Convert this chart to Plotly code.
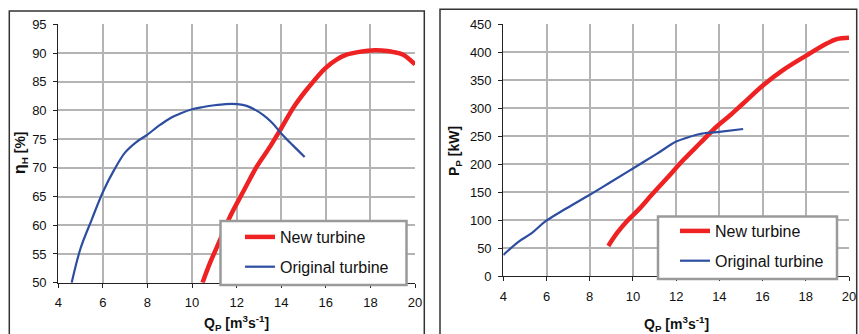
import plotly.graph_objects as go

# Left chart: hydraulic efficiency eta_H [%] vs Q_P
eta_orig_q = [4.6, 5.0, 5.5, 6.0, 6.5, 7.0, 7.5, 8.0, 8.5, 9.0, 9.5, 10.0, 10.5, 11.0, 11.5, 12.0, 12.45, 13.2, 13.6, 14.0, 14.5, 15.05]
eta_orig = [50.0, 56.0, 61.0, 65.8, 69.6, 72.7, 74.5, 75.8, 77.3, 78.6, 79.5, 80.2, 80.6, 80.9, 81.1, 81.1, 80.8, 79.2, 77.8, 76.0, 74.0, 71.9]
eta_new_q = [10.47, 10.8, 11.25, 11.7, 12.37, 12.9, 13.5, 14.0, 14.6, 15.2, 15.96, 16.5, 16.93, 17.5, 18.2, 18.6, 19.0, 19.47, 20.0]
eta_new = [50.0, 53.4, 57.4, 61.5, 66.4, 70.2, 73.7, 76.9, 80.8, 83.9, 87.3, 88.9, 89.7, 90.2, 90.5, 90.4, 90.2, 89.7, 88.0]

# Right chart: power P_P [kW] vs Q_P
p_orig_q = [4.0, 4.7, 5.3, 5.93, 6.93, 8.0, 8.94, 10.0, 11.1, 12.0, 12.5, 13.1, 13.9, 15.1]
p_orig = [37.5, 61, 76, 97, 121, 145, 167, 192, 218, 240, 247, 253.6, 257, 262.5]
p_new_q = [8.86, 9.25, 9.7, 10.25, 10.87, 11.56, 12.33, 13.1, 13.88, 14.5, 15.1, 16.04, 16.96, 18.04, 18.97, 19.43, 20.0]
p_new = [53.6, 76, 97, 118, 145, 174, 207, 237, 267, 287, 308, 341, 368, 394, 415, 423, 425.5]

x_ticks = [4, 6, 8, 10, 12, 14, 16, 18, 20]
eta_ticks = [50, 55, 60, 65, 70, 75, 80, 85, 90, 95]
p_ticks = list(range(0, 451, 50))

RED = "#ee2222"
BLUE = "#2d4ea0"
FONT = "Liberation Sans, Arial, sans-serif"

fig = go.Figure()
fig.add_trace(go.Scatter(x=eta_new_q, y=eta_new, mode="lines", name="New turbine", legendgroup="a",
                         line=dict(color=RED, width=4.5, shape="spline"), xaxis="x", yaxis="y", legend="legend"))
fig.add_trace(go.Scatter(x=eta_orig_q, y=eta_orig, mode="lines", name="Original turbine", legendgroup="b",
                         line=dict(color=BLUE, width=2.2, shape="spline"), xaxis="x", yaxis="y", legend="legend"))
fig.add_trace(go.Scatter(x=p_new_q, y=p_new, mode="lines", name="New turbine", legendgroup="c",
                         line=dict(color=RED, width=4.5, shape="spline"), xaxis="x2", yaxis="y2", legend="legend2"))
fig.add_trace(go.Scatter(x=p_orig_q, y=p_orig, mode="lines", name="Original turbine", legendgroup="d",
                         line=dict(color=BLUE, width=2.2, shape="spline"), xaxis="x2", yaxis="y2", legend="legend2"))

W, H = 859, 334
def px(x):
    return x / W
def py(y):
    return 1 - y / H

axcommon = dict(showgrid=True, gridcolor="#b4b4b4", gridwidth=1.5, showline=True, linecolor="#222222",
                linewidth=1.2, ticks="outside", ticklen=4, tickcolor="#222222", zeroline=False,
                tickfont=dict(family=FONT, size=13, color="#111111"), mirror=False, automargin=False,
                ticklabelstandoff=4)

legcommon = dict(bgcolor="rgba(0,0,0,0)", borderwidth=0,
                 font=dict(family=FONT, size=16, color="#111111"), tracegroupgap=6,
                 xanchor="left", yanchor="top", itemwidth=30)

fig.update_layout(
    width=W, height=H, margin=dict(l=0, r=0, t=0, b=0, autoexpand=False),
    paper_bgcolor="white", plot_bgcolor="white",
    xaxis=dict(domain=[px(58.3), px(415)], range=[4, 20], tickvals=x_ticks, anchor="y", **axcommon),
    yaxis=dict(domain=[py(282.7), py(24.3)], range=[50, 95], tickvals=eta_ticks, anchor="x", **axcommon),
    xaxis2=dict(domain=[px(503.3), px(849)], range=[4, 20], tickvals=x_ticks, anchor="y2", **axcommon),
    yaxis2=dict(domain=[py(276), py(24)], range=[0, 450], tickvals=p_ticks, anchor="x2", **axcommon),
    legend=dict(x=px(240), y=py(220), **legcommon),
    legend2=dict(x=px(675), y=py(214), **legcommon),
    showlegend=True,
)

# outer chart frames
fig.add_shape(type="rect", xref="paper", yref="paper", x0=px(9.3), x1=px(424.3), y0=py(345), y1=py(11),
              line=dict(color="#333333", width=1.5), layer="below")
fig.add_shape(type="rect", xref="paper", yref="paper", x0=px(440), x1=px(856.7), y0=py(345), y1=py(9.3),
              line=dict(color="#333333", width=1.5), layer="below")
# legend boxes
fig.add_shape(type="rect", xref="paper", yref="paper", x0=px(220.5), x1=px(406.5), y0=py(285), y1=py(221),
              line=dict(color="#9a9a9a", width=2.5), fillcolor="white", layer="above")
fig.add_shape(type="rect", xref="paper", yref="paper", x0=px(658), x1=px(837), y0=py(279), y1=py(216.5),
              line=dict(color="#9a9a9a", width=2.5), fillcolor="white", layer="above")

tfont = dict(family=FONT, size=14, color="#111111")
fig.add_annotation(xref="paper", yref="paper", x=px(237), y=py(323), text="<b>Q<sub>P</sub> [m<sup>3</sup>s<sup>-1</sup>]</b>",
                   showarrow=False, font=tfont, xanchor="center", yanchor="middle")
fig.add_annotation(xref="paper", yref="paper", x=px(20), y=py(153),
                   text="<b><span style='font-size:16px'>η</span><sub>H</sub> [%]</b>",
                   showarrow=False, font=tfont, textangle=-90, xanchor="center", yanchor="middle")
fig.add_annotation(xref="paper", yref="paper", x=px(676), y=py(324), text="<b>Q<sub>P</sub> [m<sup>3</sup>s<sup>-1</sup>]</b>",
                   showarrow=False, font=tfont, xanchor="center", yanchor="middle")
fig.add_annotation(xref="paper", yref="paper", x=px(455), y=py(151), text="<b>P<sub>P</sub> [kW]</b>",
                   showarrow=False, font=tfont, textangle=-90, xanchor="center", yanchor="middle")

fig.write_html("out.html", config={"displayModeBar": False},
               post_script="document.body.style.margin='0';document.body.style.overflow='hidden';")
